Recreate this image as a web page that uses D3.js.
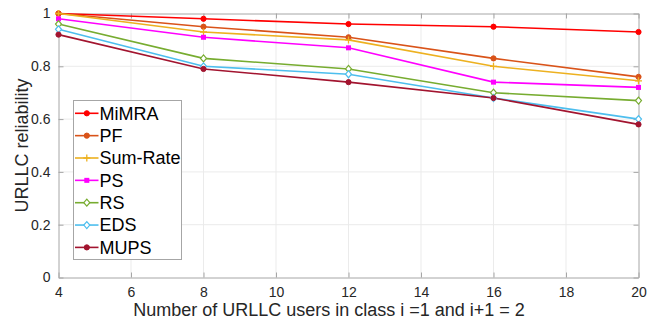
<!DOCTYPE html>
<html>
<head>
<meta charset="utf-8">
<script src="https://cdn.jsdelivr.net/npm/d3@7"></script>
<style>
  html, body { margin: 0; padding: 0; background: #fff; }
  svg { display: block; font-family: "Liberation Sans", Arial, Helvetica, sans-serif; }
</style>
</head>
<body>
<svg id="chart" width="661" height="322"></svg>
<script>
// Number of URLLC users per class
const users = [4, 8, 12, 16, 20];

// Reliability of each scheduling scheme
const mimra   = [1.00, 0.98, 0.96, 0.95, 0.93];
const pf      = [1.00, 0.95, 0.91, 0.83, 0.76];
const sumRate = [1.00, 0.93, 0.90, 0.80, 0.745];
const ps      = [0.98, 0.91, 0.87, 0.74, 0.72];
const rs      = [0.96, 0.83, 0.79, 0.70, 0.67];
const eds     = [0.94, 0.80, 0.77, 0.68, 0.60];
const mups    = [0.92, 0.79, 0.74, 0.68, 0.58];

const seriesNames = ["MiMRA", "PF", "Sum-Rate", "PS", "RS", "EDS", "MUPS"];
const seriesValues = [mimra, pf, sumRate, ps, rs, eds, mups];

const xTicks = [4, 6, 8, 10, 12, 14, 16, 18, 20];
const yTicks = [0, 0.2, 0.4, 0.6, 0.8, 1];

const colors = ["#FF0000", "#D95319", "#EDB120", "#FF00FF", "#77AC30", "#4DBEEE", "#A2142F"];
const markers = ["dotFilled", "dotFilled", "plus", "square", "diamond", "diamond", "dotFilled"];

const svg = d3.select("#chart");
const m = { left: 58.5, right: 638.5, top: 13.5, bottom: 277.5 };

const x = d3.scaleLinear().domain([4, 20]).range([m.left, m.right]);
const y = d3.scaleLinear().domain([0, 1]).range([m.bottom, m.top]);

const textColor = "#262626";
const axisColor = "#a6a6a6";

// grid
const grid = svg.append("g");
grid.selectAll("line.gx").data(xTicks.slice(1, -1)).enter().append("line")
  .attr("x1", d => x(d)).attr("x2", d => x(d))
  .attr("y1", m.top).attr("y2", m.bottom)
  .attr("stroke", "#ebebeb").attr("stroke-width", 1);
grid.selectAll("line.gy").data(yTicks.slice(1, -1)).enter().append("line")
  .attr("x1", m.left).attr("x2", m.right)
  .attr("y1", d => y(d)).attr("y2", d => y(d))
  .attr("stroke", "#ebebeb").attr("stroke-width", 1);

// axes (ticks pointing inward)
const xAxis = svg.append("g").attr("transform", `translate(0,${m.bottom})`)
  .call(d3.axisBottom(x).tickValues(xTicks).tickSizeInner(-5).tickSizeOuter(0).tickPadding(10));
const yAxis = svg.append("g").attr("transform", `translate(${m.left},0)`)
  .call(d3.axisLeft(y).tickValues(yTicks).tickSizeInner(-5).tickSizeOuter(0).tickPadding(8)
    .tickFormat(d => d === 0 || d === 1 ? String(d) : d3.format(".1f")(d)));
const xTop = svg.append("g").attr("transform", `translate(0,${m.top})`)
  .call(d3.axisTop(x).tickValues(xTicks).tickSizeInner(-5).tickSizeOuter(0).tickFormat(""));
const yRight = svg.append("g").attr("transform", `translate(${m.right},0)`)
  .call(d3.axisRight(y).tickValues(yTicks).tickSizeInner(-5).tickSizeOuter(0).tickFormat(""));

[xAxis, yAxis, xTop, yRight].forEach(g => {
  g.select(".domain").attr("stroke", axisColor).attr("stroke-width", 1);
  g.selectAll(".tick line").attr("stroke", axisColor);
  g.selectAll(".tick text").attr("fill", textColor).style("font-size", "14px")
    .style("font-family", "'Liberation Sans', Arial, sans-serif");
});

// axis titles
svg.append("text")
  .attr("x", 329).attr("y", 316)
  .attr("text-anchor", "middle").attr("fill", textColor)
  .style("font-size", "18px")
  .text("Number of URLLC users in class i =1 and i+1 = 2");
svg.append("text")
  .attr("transform", `translate(28,${(m.top + m.bottom) / 2}) rotate(-90)`)
  .attr("text-anchor", "middle").attr("fill", textColor)
  .style("font-size", "18px")
  .text("URLLC reliability");

function drawMarker(g, type, cx, cy, color) {
  if (type === "dotFilled") {
    g.append("circle").attr("cx", cx).attr("cy", cy).attr("r", 2.6)
      .attr("fill", color).attr("stroke", color);
  } else if (type === "plus") {
    g.append("path").attr("d", `M${cx - 3.5},${cy}H${cx + 3.5}M${cx},${cy - 3.5}V${cy + 3.5}`)
      .attr("stroke", color).attr("stroke-width", 1.3).attr("fill", "none");
  } else if (type === "square") {
    g.append("rect").attr("x", cx - 2.5).attr("y", cy - 2.5).attr("width", 5).attr("height", 5)
      .attr("fill", color);
  } else if (type === "diamond") {
    g.append("path").attr("d", `M${cx},${cy - 3.5}L${cx + 3},${cy}L${cx},${cy + 3.5}L${cx - 3},${cy}Z`)
      .attr("fill", "#fff").attr("stroke", color).attr("stroke-width", 1.2);
  }
}

// series lines and markers
const line = d3.line().x((d, i) => x(users[i])).y(d => y(d));
const plot = svg.append("g");
seriesValues.forEach((vals, k) => {
  plot.append("path").datum(vals).attr("d", line)
    .attr("fill", "none").attr("stroke", colors[k]).attr("stroke-width", 1.6);
});
seriesValues.forEach((vals, k) => {
  const g = plot.append("g");
  vals.forEach((v, i) => drawMarker(g, markers[k], x(users[i]), y(v), colors[k]));
});

// legend
const leg = svg.append("g");
const lx = 73.5, ly = 100.5, lw = 108, lh = 159;
leg.append("rect").attr("x", lx).attr("y", ly).attr("width", lw).attr("height", lh)
  .attr("fill", "#fff").attr("stroke", axisColor).attr("stroke-width", 1);
seriesNames.forEach((name, k) => {
  const cy = 113.3 + k * 22.35;
  leg.append("line").attr("x1", 75).attr("x2", 98.5).attr("y1", cy).attr("y2", cy)
    .attr("stroke", colors[k]).attr("stroke-width", 1.6);
  drawMarker(leg, markers[k], 86.8, cy, colors[k]);
  leg.append("text").attr("x", 99.5).attr("y", cy + 6.3)
    .attr("fill", "#000").style("font-size", "18px").text(name);
});
</script>
</body>
</html>
